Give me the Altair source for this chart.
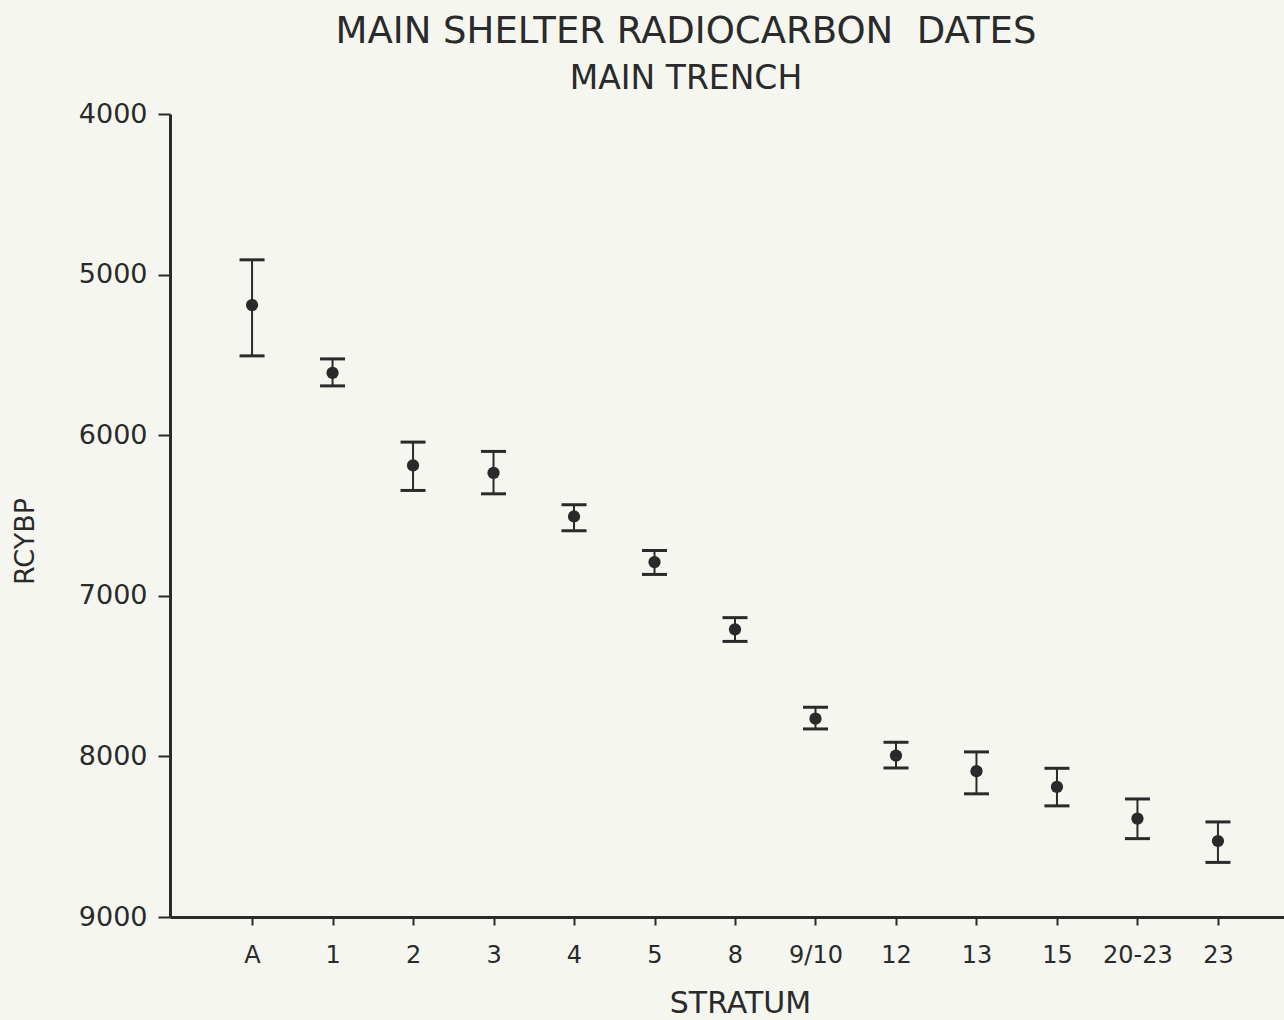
import altair as alt
import pandas as pd

strata = ["A", "1", "2", "3", "4", "5", "8", "9/10", "12", "13", "15", "20-23", "23"]
dates = [5190, 5612, 6188, 6235, 6506, 6790, 7209, 7765, 7995, 8092, 8190, 8387, 8527]
upper = [4908, 5525, 6043, 6101, 6433, 6718, 7136, 7694, 7912, 7972, 8074, 8265, 8408]
lower = [5506, 5693, 6344, 6365, 6595, 6867, 7284, 7829, 8072, 8233, 8308, 8512, 8660]
y_ticks = [4000, 5000, 6000, 7000, 8000, 9000]

df = pd.DataFrame({"stratum": strata, "date": dates, "top": upper, "bottom": lower})

INK = "#2a2a2a"
FONT = "DejaVu Sans"

x_enc = alt.X(
    "stratum:N",
    sort=strata,
    scale=alt.Scale(type="point", padding=0.92, align=0.554),
    axis=alt.Axis(
        title="STRATUM",
        titleFont=FONT,
        titleFontSize=30,
        titleFontWeight="normal",
        titleColor=INK,
        titleX=570,
        titleY=86,
        titleBaseline="middle",
        labelFont=FONT,
        labelFontSize=24,
        labelColor=INK,
        labelPadding=18,
        labelAngle=0,
        tickSize=8,
        tickWidth=2,
        tickColor=INK,
        domainColor=INK,
        domainWidth=3,
        grid=False,
    ),
)

y_scale = alt.Scale(domain=[4000, 9000], reverse=True, nice=False, zero=False)
y_axis = alt.Axis(
    title="RCYBP",
    titleFont=FONT,
    titleFontSize=27,
    titleFontWeight="normal",
    titleColor=INK,
    titleX=-145,
    titleY=427,
    titleAngle=270,
    titleBaseline="middle",
    titleAlign="center",
    values=y_ticks,
    format="d",
    labelFont=FONT,
    labelFontSize=27,
    labelColor=INK,
    labelPadding=11,
    tickSize=12,
    tickWidth=2,
    tickColor=INK,
    domainColor=INK,
    domainWidth=3,
    grid=False,
)

base = alt.Chart(df)

rules = base.mark_rule(color=INK, strokeWidth=2, opacity=1).encode(
    x=x_enc,
    y=alt.Y("top:Q", scale=y_scale, axis=y_axis),
    y2="bottom:Q",
)
cap_top = base.mark_tick(color=INK, orient="horizontal", size=25, thickness=3, opacity=1).encode(
    x=alt.X("stratum:N", sort=strata), y=alt.Y("top:Q")
)
cap_bot = base.mark_tick(color=INK, orient="horizontal", size=25, thickness=3, opacity=1).encode(
    x=alt.X("stratum:N", sort=strata), y=alt.Y("bottom:Q")
)
points = base.mark_circle(color=INK, size=150, opacity=1).encode(
    x=alt.X("stratum:N", sort=strata), y=alt.Y("date:Q")
)

chart = (
    alt.layer(rules, cap_top, cap_bot, points)
    .properties(
        width=1114,
        height=803,
        title=alt.Title(
            text="MAIN SHELTER RADIOCARBON\u00a0 DATES",
            subtitle="MAIN TRENCH",
            font=FONT,
            fontSize=37,
            fontWeight="normal",
            color=INK,
            subtitleFont=FONT,
            subtitleFontSize=33,
            subtitleColor=INK,
            subtitlePadding=12,
            anchor="middle",
            dx=-41,
            offset=3,
        ),
        autosize=alt.AutoSizeParams(type="none"),
        padding={"left": 170, "top": 114, "right": 0, "bottom": 103},
        background="#f4f6ef",
    )
    .configure_view(stroke=None)
)

chart.save("out.html", embed_options={"renderer": "svg", "actions": False})
